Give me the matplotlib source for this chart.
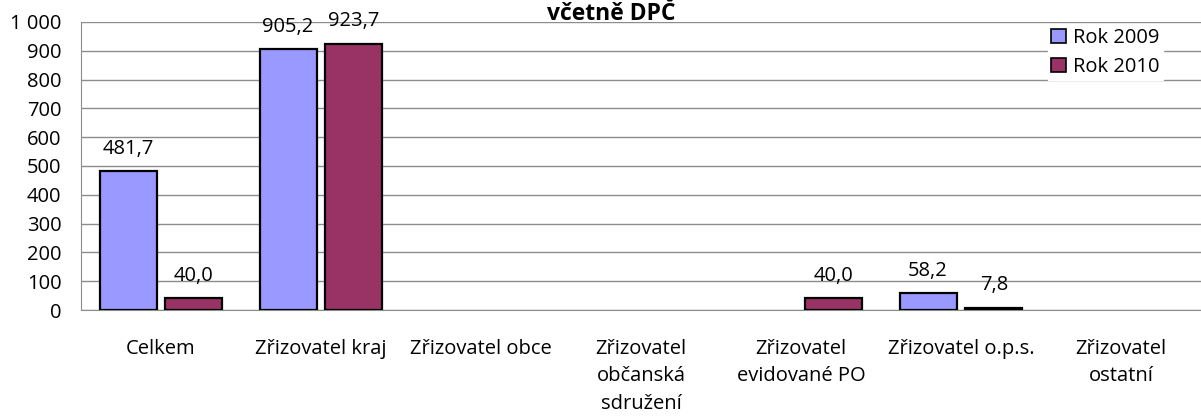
"""Bar chart: Zřizovatel, rok 2009 vs 2010, včetně DPČ."""
import matplotlib

matplotlib.use("Agg")
import matplotlib.pyplot as plt
import numpy as np
from matplotlib.patches import Patch

categories = [
    "Celkem",
    "Zřizovatel kraj",
    "Zřizovatel obce",
    "Zřizovatel\nobčanská\nsdružení",
    "Zřizovatel\nevidované PO",
    "Zřizovatel o.p.s.",
    "Zřizovatel\nostatní",
]
rok_2009 = [481.7, 905.2, 0, 0, 0, 58.2, 0]
rok_2010 = [40.0, 923.7, 0, 0, 40.0, 7.8, 0]
series_labels = ["Rok 2009", "Rok 2010"]
yticks = [0, 100, 200, 300, 400, 500, 600, 700, 800, 900, 1000]

COLORS = ["#9999FF", "#993366"]


def fmt(v):
    return f"{v:.1f}".replace(".", ",")


def main():
    plt.rcParams["font.family"] = ["Open Sans", "DejaVu Sans"]
    fs = 14.5
    fig = plt.figure(figsize=(12.01, 4.16), dpi=100)
    ax = fig.add_axes([81 / 1201, 1 - 310 / 416, 1 - 81 / 1201, 288 / 416])

    x = np.arange(len(categories))
    width = 0.356
    gap = 0.056
    offsets = [-(width + gap) / 2, (width + gap) / 2]
    for vals, off, color in zip([rok_2009, rok_2010], offsets, COLORS):
        for xi, v in zip(x, vals):
            if v <= 0:
                continue
            ax.bar(xi + off, v, width=width, color=color, edgecolor="black",
                   linewidth=1.6, zorder=3)
            ax.annotate(fmt(v), (xi + off, v), xytext=(0, 9),
                        textcoords="offset points", ha="center",
                        va="bottom", fontsize=fs, annotation_clip=False)

    ax.set_xlim(-0.5, len(categories) - 0.5)
    ax.set_ylim(0, 1000)
    ax.set_yticks(yticks)
    ax.set_yticklabels([f"{t:,}".replace(",", " ") for t in yticks],
                       fontsize=fs)
    ax.set_xticks(x)
    ax.set_xticklabels(categories, fontsize=fs, linespacing=1.48, va="top")
    ax.tick_params(axis="x", length=0, pad=21)
    ax.tick_params(axis="y", length=0, pad=14)
    ax.yaxis.grid(True, color="#8c8c8c", linewidth=1, zorder=0)
    for side in ["top", "right"]:
        ax.spines[side].set_visible(False)
    ax.spines["left"].set_color("#8c8c8c")
    ax.spines["bottom"].set_color("#8c8c8c")

    fig.text(611 / 1201, 1 - 20 / 416, "včetně DPČ", ha="center",
             va="baseline", fontsize=16.5, fontweight="bold", zorder=6)

    handles = [Patch(facecolor=c, edgecolor="black", linewidth=1.2, label=l)
               for c, l in zip(COLORS, series_labels)]
    leg = ax.legend(handles=handles, loc="upper left",
                    bbox_to_anchor=(1048 / 1201, 1.0 - 25 / 416),
                    bbox_transform=fig.transFigure, frameon=True,
                    fontsize=fs, handlelength=0.75, handleheight=0.75,
                    handletextpad=0.35, labelspacing=0.45, borderpad=0.15,
                    borderaxespad=0)
    leg.get_frame().set_edgecolor("white")
    leg.get_frame().set_alpha(1)
    leg.get_frame().set_boxstyle("square", pad=0)
    leg.set_zorder(5)

    fig.savefig("out.png", dpi=100)


if __name__ == "__main__":
    main()
